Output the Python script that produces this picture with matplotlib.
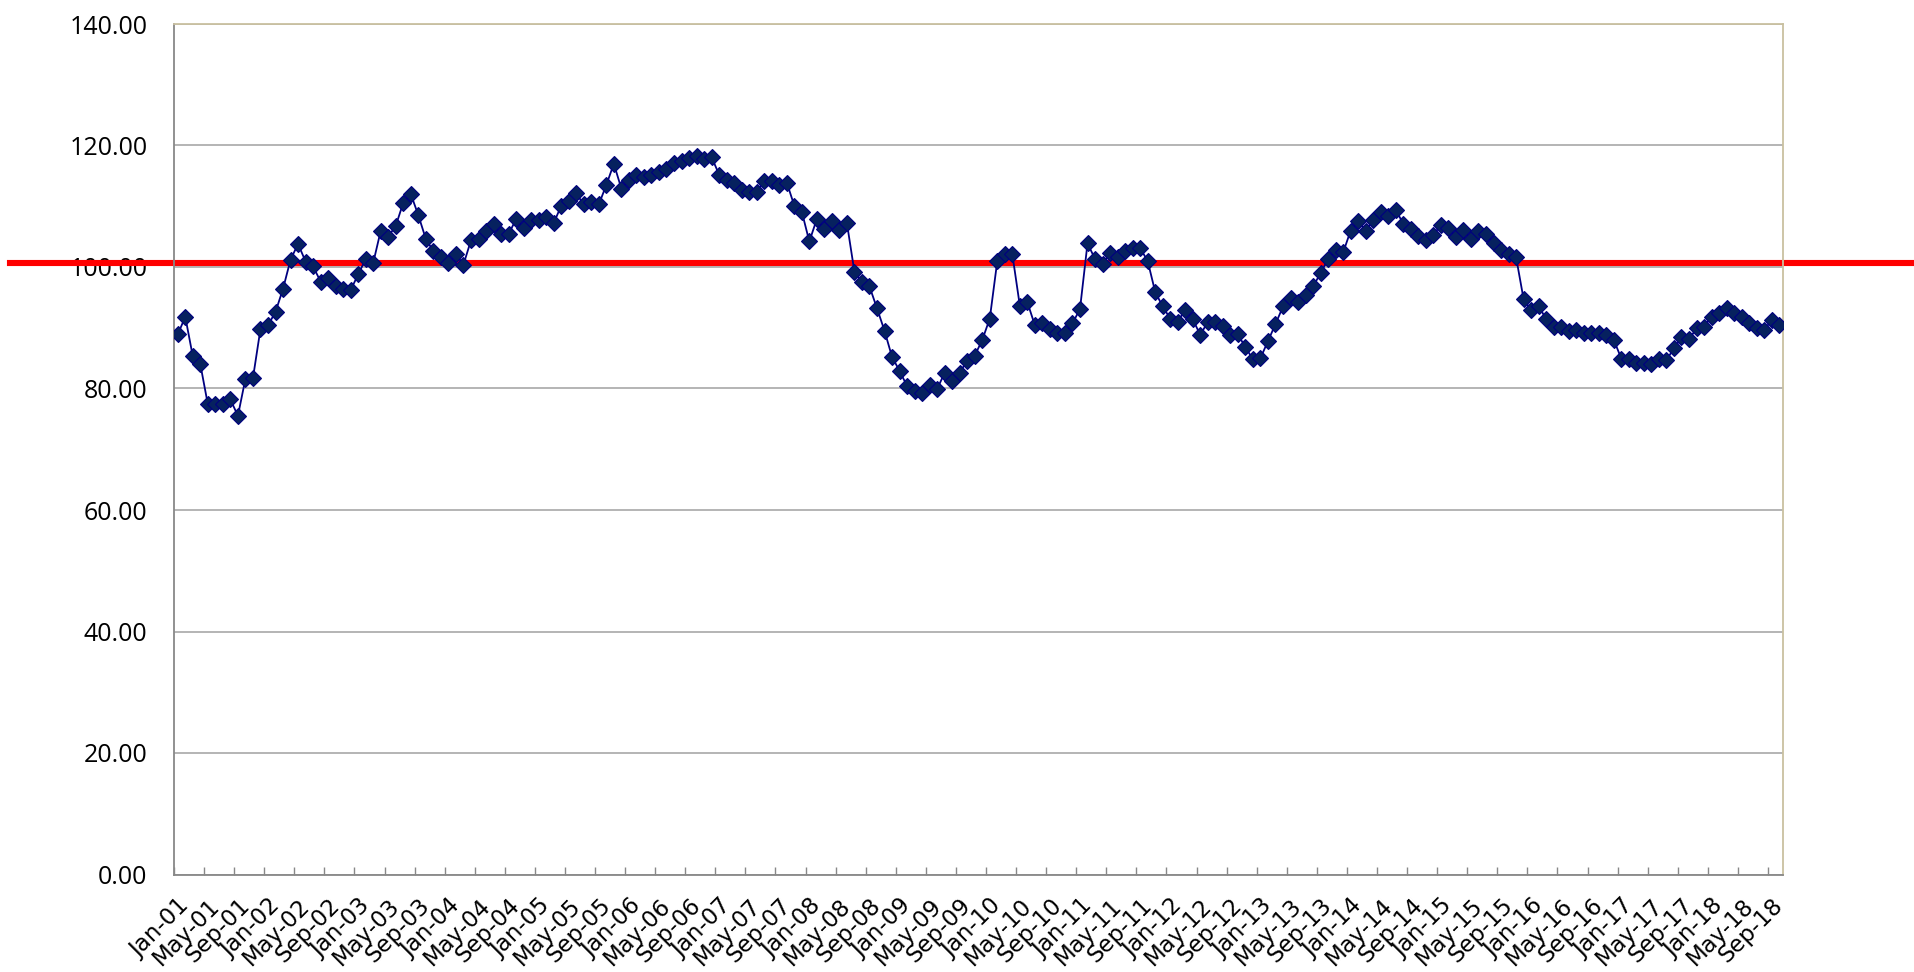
import numpy as np
import matplotlib
matplotlib.use("Agg")
import matplotlib.pyplot as plt

# monthly index, Jan-01 .. Oct-18
values = [
    88.9, 91.8, 85.3, 84.0, 77.4, 77.4, 77.5, 78.2, 75.5, 81.6, 81.7, 89.8,
    90.4, 92.6, 96.4, 101.2, 103.8, 100.9, 100.1, 97.6, 98.2, 96.8, 96.3, 96.2,
    98.8, 101.3, 100.7, 106.0, 105.0, 106.8, 110.6, 112.0, 108.5, 104.6, 102.6, 101.6,
    100.6, 102.1, 100.4, 104.4, 104.6, 106.0, 107.0, 105.4, 105.4, 107.9, 106.4, 107.7,
    107.7, 108.3, 107.2, 110.1, 110.9, 112.1, 110.3, 110.7, 110.3, 113.5, 117.0, 112.9,
    114.3, 115.2, 114.8, 115.2, 115.7, 116.1, 117.1, 117.5, 117.9, 118.3, 117.7, 118.1,
    115.2, 114.3, 113.8, 112.7, 112.4, 112.4, 114.1, 114.1, 113.5, 113.9, 110.1, 109.1,
    104.2, 107.9, 106.2, 107.5, 106.1, 107.2, 99.2, 97.6, 96.8, 93.2, 89.5, 85.2,
    82.9, 80.4, 79.6, 79.2, 80.5, 79.9, 82.6, 81.3, 82.6, 84.6, 85.4, 88.0,
    91.5, 101.0, 102.1, 102.1, 93.6, 94.2, 90.4, 90.7, 89.8, 89.2, 89.2, 90.7,
    93.1, 103.9, 101.3, 100.5, 102.3, 101.7, 102.7, 103.2, 103.1, 101.0, 95.9, 93.5,
    91.5, 91.0, 93.0, 91.4, 88.8, 91.0, 91.0, 90.3, 88.8, 88.9, 86.8, 84.8,
    85.0, 87.8, 90.6, 93.5, 94.9, 94.3, 95.4, 96.8, 99.0, 101.3, 102.8, 102.4,
    106.0, 107.5, 106.0, 107.7, 109.0, 108.4, 109.4, 107.1, 106.2, 105.1, 104.5, 105.3,
    106.9, 106.4, 104.9, 106.1, 104.6, 106.0, 105.4, 103.9, 102.8, 102.1, 101.6, 94.7,
    92.9, 93.6, 91.4, 90.2, 90.2, 89.5, 89.6, 89.1, 89.2, 89.1, 88.8, 88.0,
    84.9, 84.9, 84.2, 84.2, 84.0, 84.9, 84.7, 86.6, 88.4, 88.1, 89.9, 90.2,
    91.8, 92.4, 93.2, 92.4, 91.8, 90.7, 89.9, 89.6, 91.3, 90.4,
]

tick_labels = [
    "Jan-01", "May-01", "Sep-01", "Jan-02", "May-02", "Sep-02", "Jan-03", "May-03", "Sep-03",
    "Jan-04", "May-04", "Sep-04", "Jan-05", "May-05", "Sep-05", "Jan-06", "May-06", "Sep-06",
    "Jan-07", "May-07", "Sep-07", "Jan-08", "May-08", "Sep-08", "Jan-09", "May-09", "Sep-09",
    "Jan-10", "May-10", "Sep-10", "Jan-11", "May-11", "Sep-11", "Jan-12", "May-12", "Sep-12",
    "Jan-13", "May-13", "Sep-13", "Jan-14", "May-14", "Sep-14", "Jan-15", "May-15", "Sep-15",
    "Jan-16", "May-16", "Sep-16", "Jan-17", "May-17", "Sep-17", "Jan-18", "May-18", "Sep-18",
]

reference_level = 100.6
y_ticks = [0, 20, 40, 60, 80, 100, 120, 140]

x = np.arange(len(values))

fig = plt.figure(figsize=(19.14, 9.72), dpi=100)
ax = fig.add_axes([174 / 1914, 1 - 874.5 / 972, 1609 / 1914, 850.5 / 972])

# grid
ax.set_ylim(0, 140)
ax.set_yticks(y_ticks)
ax.set_yticklabels([f"{v:.2f}" for v in y_ticks], fontsize=18, family="Open Sans")
ax.yaxis.grid(True, color="#a0a0a0", linewidth=1.1, zorder=0)
ax.set_axisbelow(True)
ax.tick_params(axis="y", length=0, pad=19)

# red reference line, running past the plot on both sides
ax.axhline(reference_level, xmin=(10 - 174) / 1609, xmax=(1914 - 174) / 1609,
           color="#ff0000", linewidth=4.4, clip_on=False, zorder=2)

ax.plot(x, values, color="#000080", linewidth=1.3, marker="D", markersize=7.8,
        markerfacecolor="#06215f", markeredgecolor="#000080", markeredgewidth=0.8,
        zorder=3)

# x axis: ticks between categories every 4 months, labels under the points
ax.set_xlim(-0.5, len(values) - 0.5)
ax.set_xticks(np.arange(-0.5, len(values), 4))
ax.set_xticklabels([])
ax.tick_params(axis="x", which="major", direction="in", length=6, color="#888888", width=1)
ax.set_xticks(np.arange(0, len(values), 4), minor=True)
ax.set_xticklabels(tick_labels, minor=True, rotation=45, ha="right",
                   rotation_mode="anchor", fontsize=16.5)
ax.tick_params(axis="x", which="minor", length=0, pad=14)

for side in ["left", "bottom"]:
    ax.spines[side].set_color("#888888")
    ax.spines[side].set_linewidth(1.3)
for side in ["top", "right"]:
    ax.spines[side].set_color("#c9c0a0")
    ax.spines[side].set_linewidth(1.3)

fig.savefig("out.png", dpi=100)
